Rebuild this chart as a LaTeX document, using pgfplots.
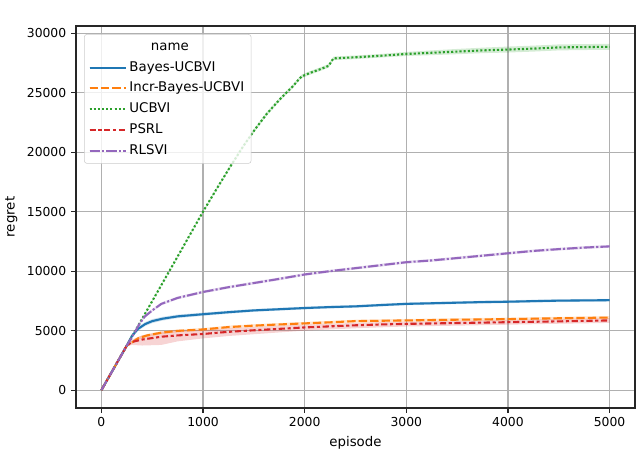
\documentclass[border=0pt]{standalone}
\usepackage{fontspec}
\setmainfont{DejaVu Sans}
\usepackage{pgfplots}
\pgfplotsset{compat=1.18}
\usepgfplotslibrary{fillbetween}
\definecolor{cblue}{HTML}{1F77B4}
\definecolor{corange}{HTML}{FF7F0E}
\definecolor{cgreen}{HTML}{2CA02C}
\definecolor{cred}{HTML}{D62728}
\definecolor{cpurple}{HTML}{9467BD}
\definecolor{gridgray}{HTML}{B0B0B0}

% x  mean  lower  upper
\pgfplotstableread{
x y lo hi
0 0 0 0
250 3750 3730 3770
300 4550 4400 4700
360 5150 4980 5320
430 5550 5380 5720
500 5800 5630 5970
600 6000 5840 6160
750 6200 6050 6350
1000 6380 6240 6520
1250 6550 6420 6680
1500 6700 6580 6820
1750 6800 6680 6920
2000 6900 6780 7020
2250 6980 6860 7100
2500 7040 6920 7160
2750 7150 7030 7270
3000 7250 7130 7370
3250 7300 7180 7420
3500 7350 7230 7470
3750 7400 7280 7520
4000 7430 7310 7550
4250 7480 7360 7600
4500 7520 7400 7640
4750 7540 7420 7660
5000 7560 7440 7680
}\tabbayes
\pgfplotstableread{
x y lo hi
0 0 0 0
250 3750 3730 3770
300 4000 3880 4120
360 4350 4230 4470
450 4600 4480 4720
590 4830 4710 4950
750 4980 4860 5100
1000 5100 4980 5220
1250 5300 5180 5420
1500 5420 5300 5540
1750 5520 5400 5640
2000 5610 5490 5730
2250 5700 5580 5820
2500 5800 5680 5920
2750 5830 5710 5950
3000 5860 5740 5980
3500 5920 5800 6040
4000 5970 5850 6090
4500 6040 5920 6160
5000 6100 5980 6220
}\tabincr
\pgfplotstableread{
x y lo hi
0 0 0 0
250 3750 3720 3780
500 7480 7430 7530
750 11230 11170 11290
1000 15000 14930 15070
1140 17000 16900 17100
1280 18950 18830 19070
1400 20550 20420 20680
1510 21900 21750 22050
1630 23250 23100 23400
1755 24430 24280 24580
1820 25000 24850 25150
1886 25550 25400 25700
1930 26000 25850 26150
1968 26350 26200 26500
2050 26650 26500 26800
2150 26960 26810 27110
2235 27250 27100 27400
2283 27880 27730 28030
2500 27970 27820 28120
2750 28100 27950 28250
3000 28250 28080 28420
3250 28350 28150 28550
3500 28450 28230 28670
3750 28550 28320 28780
4000 28620 28370 28870
4250 28700 28450 28950
4500 28800 28550 29050
4750 28830 28580 29080
5000 28850 28600 29100
}\tabucbvi
\pgfplotstableread{
x y lo hi
0 0 0 0
250 3750 3700 3800
300 4050 3800 4250
400 4250 3750 4600
590 4490 3800 4900
750 4600 4100 5050
1000 4720 4350 5050
1250 4900 4550 5200
1500 5030 4700 5300
1750 5150 4850 5420
2000 5270 5000 5500
2250 5360 5100 5580
2500 5450 5200 5650
2750 5520 5280 5720
3000 5570 5350 5750
3500 5640 5420 5830
4000 5710 5500 5900
4500 5780 5580 5980
5000 5860 5650 6050
}\tabpsrl
\pgfplotstableread{
x y lo hi
0 0 0 0
250 3750 3730 3770
300 4450 4350 4550
377 5600 5480 5720
426 6180 6060 6300
500 6700 6580 6820
590 7250 7130 7370
750 7750 7630 7870
1000 8250 8130 8370
1250 8650 8530 8770
1500 9000 8880 9120
1750 9350 9230 9470
2000 9720 9600 9840
2250 10000 9880 10120
2500 10250 10130 10370
2750 10500 10380 10620
3000 10750 10630 10870
3250 10900 10780 11020
3500 11100 10980 11220
3750 11300 11180 11420
4000 11500 11380 11620
4250 11700 11580 11820
4500 11850 11730 11970
4750 11980 11860 12100
5000 12080 11960 12200
}\tabrlsvi

\begin{document}
\begin{tikzpicture}
\begin{axis}[
  at={(0,0)}, anchor=south west,
  scale only axis, width=402.48pt, height=275.04pt,
  xmin=-250, xmax=5250, ymin=-1500, ymax=30600,
  xtick={0,1000,2000,3000,4000,5000},
  ytick={0,5000,10000,15000,20000,25000,30000},
  scaled ticks=false,
  /pgf/number format/1000 sep={},
  /pgf/number format/assume math mode=true,
  tick label style={font=\fontsize{8.9}{10}\selectfont},
  label style={font=\fontsize{9.6}{11}\selectfont},
  xlabel={episode}, ylabel={regret},
  grid=major,
  major grid style={gridgray, line width=0.8pt},
  axis line style={black!85, line width=0.8pt},
  tick style={black!85, line width=0.8pt},
  tick align=outside, major tick length=3.5pt,
  xtick pos=bottom, ytick pos=left,
  legend cell align=left,
  legend image code/.code={\draw[#1] (0pt,0pt) -- (21pt,0pt); \path (0pt,0pt) -- (26pt,0pt);},
  legend style={at={(0.0144,0.979)}, anchor=north west,
    draw=black!20, rounded corners=2pt, fill=white, fill opacity=0.8,
    text opacity=1, font=\fontsize{9.6}{11}\selectfont,
    nodes={text height=7pt, text depth=2pt, inner ysep=3pt},
    row sep=0pt, inner xsep=3pt, inner ysep=1.5pt},
]
% bands
\addplot[draw=none, name path=blo, forget plot] table[x=x, y=lo] {\tabbayes};
\addplot[draw=none, name path=bhi, forget plot] table[x=x, y=hi] {\tabbayes};
\addplot[fill=cblue, fill opacity=0.2, draw=none, forget plot] fill between[of=blo and bhi];
\addplot[draw=none, name path=ilo, forget plot] table[x=x, y=lo] {\tabincr};
\addplot[draw=none, name path=ihi, forget plot] table[x=x, y=hi] {\tabincr};
\addplot[fill=corange, fill opacity=0.2, draw=none, forget plot] fill between[of=ilo and ihi];
\addplot[draw=none, name path=ulo, forget plot] table[x=x, y=lo] {\tabucbvi};
\addplot[draw=none, name path=uhi, forget plot] table[x=x, y=hi] {\tabucbvi};
\addplot[fill=cgreen, fill opacity=0.2, draw=none, forget plot] fill between[of=ulo and uhi];
\addplot[draw=none, name path=plo, forget plot] table[x=x, y=lo] {\tabpsrl};
\addplot[draw=none, name path=phi, forget plot] table[x=x, y=hi] {\tabpsrl};
\addplot[fill=cred, fill opacity=0.2, draw=none, forget plot] fill between[of=plo and phi];
\addplot[draw=none, name path=rlo, forget plot] table[x=x, y=lo] {\tabrlsvi};
\addplot[draw=none, name path=rhi, forget plot] table[x=x, y=hi] {\tabrlsvi};
\addplot[fill=cpurple, fill opacity=0.2, draw=none, forget plot] fill between[of=rlo and rhi];
% lines
\addlegendimage{empty legend}
\addlegendentry{\hspace{15.5pt}name}
\addplot[cblue, line width=1.5pt, solid] table[x=x, y=y] {\tabbayes};
\addlegendentry{Bayes-UCBVI}
\addplot[corange, line width=1.5pt, dash pattern=on 6pt off 2.25pt] table[x=x, y=y] {\tabincr};
\addlegendentry{Incr-Bayes-UCBVI}
\addplot[cgreen, line width=1.5pt, dash pattern=on 1.5pt off 1.5pt] table[x=x, y=y] {\tabucbvi};
\addlegendentry{UCBVI}
\addplot[cred, line width=1.5pt, dash pattern=on 4.5pt off 1.9pt on 2.25pt off 1.9pt] table[x=x, y=y] {\tabpsrl};
\addlegendentry{PSRL}
\addplot[cpurple, line width=1.5pt, dash pattern=on 7.5pt off 1.5pt on 1.5pt off 1.5pt] table[x=x, y=y] {\tabrlsvi};
\addlegendentry{RLSVI}
\end{axis}
\pgfresetboundingbox
\useasboundingbox (-54.72pt,-32.4pt) rectangle (406.8pt,293.76pt);
\end{tikzpicture}
\end{document}
